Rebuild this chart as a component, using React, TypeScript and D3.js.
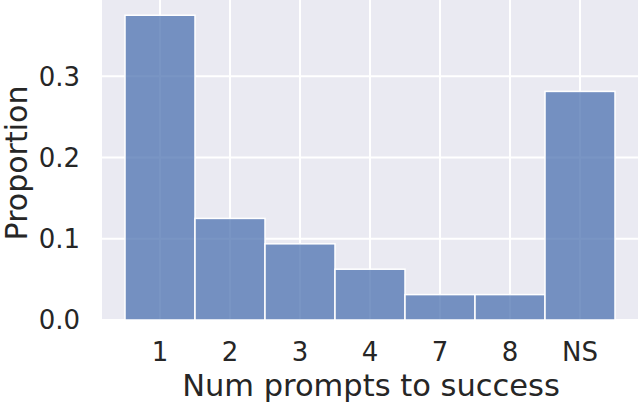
import React from "react";
import * as d3 from "d3";

const categories = ["1", "2", "3", "4", "7", "8", "NS"];
const proportions = [0.375, 0.125, 0.09375, 0.0625, 0.03125, 0.03125, 0.28125];
const yTicks = [0.0, 0.1, 0.2, 0.3];

const W = 640;
const H = 404;
const plot = { left: 102, right: 638, top: 0, bottom: 320 };

export default function App() {
  const bandPad = 23;
  const x = d3
    .scaleLinear()
    .domain([0, categories.length])
    .range([plot.left + bandPad, plot.right - bandPad]);
  const y = d3
    .scaleLinear()
    .domain([0, 0.39375])
    .range([plot.bottom, plot.top]);
  const font = "DejaVu Sans, sans-serif";
  return (
    <div style={{ position: "fixed", left: 0, top: 0 }}>
      <svg width={W} height={H} style={{ display: "block" }}>
        <rect x={0} y={0} width={W} height={H} fill="#ffffff" />
        <rect
          x={plot.left}
          y={plot.top}
          width={plot.right - plot.left}
          height={plot.bottom - plot.top}
          fill="#eaeaf2"
        />
        {yTicks.map((t) => (
          <line
            key={"gy" + t}
            x1={plot.left}
            x2={plot.right}
            y1={y(t)}
            y2={y(t)}
            stroke="#ffffff"
            strokeWidth={2}
          />
        ))}
        {categories.map((c, i) => (
          <line
            key={"gx" + c}
            x1={x(i + 0.5)}
            x2={x(i + 0.5)}
            y1={plot.top}
            y2={plot.bottom}
            stroke="#ffffff"
            strokeWidth={2}
          />
        ))}
        {categories.map((c, i) => (
          <rect
            key={"b" + c}
            x={x(i)}
            y={y(proportions[i])}
            width={x(i + 1) - x(i)}
            height={y(0) - y(proportions[i])}
            fill="#4c72b0"
            fillOpacity={0.75}
            stroke="#ffffff"
            strokeWidth={1.5}
          />
        ))}
        {yTicks.map((t) => (
          <text
            key={"ty" + t}
            x={plot.left - 22}
            y={y(t)}
            dy="0.36em"
            textAnchor="end"
            fontFamily={font}
            fontSize={26}
            fill="#262626"
          >
            {t.toFixed(1)}
          </text>
        ))}
        {categories.map((c, i) => (
          <text
            key={"tx" + c}
            x={x(i + 0.5)}
            y={361}
            textAnchor="middle"
            fontFamily={font}
            fontSize={26}
            fill="#262626"
          >
            {c}
          </text>
        ))}
        <text
          x={371}
          y={396}
          textAnchor="middle"
          fontFamily={font}
          fontSize={30.5}
          fill="#262626"
        >
          Num prompts to success
        </text>
        <text
          transform={`translate(${27},${163}) rotate(-90)`}
          textAnchor="middle"
          fontFamily={font}
          fontSize={30}
          fill="#262626"
        >
          Proportion
        </text>
      </svg>
    </div>
  );
}
